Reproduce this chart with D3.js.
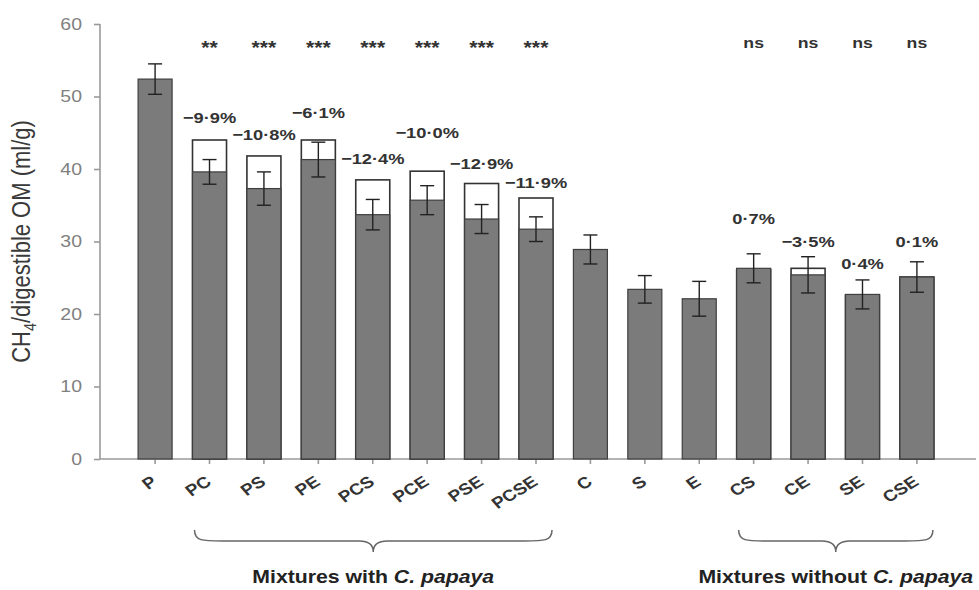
<!DOCTYPE html>
<html>
<head>
<meta charset="utf-8">
<script src="https://cdn.jsdelivr.net/npm/d3@7"></script>
<style>
  html, body { margin: 0; padding: 0; background: #fff; }
  svg { display: block; }
  text { font-family: "Liberation Sans", Arial, Helvetica, sans-serif; }
</style>
</head>
<body>
<svg id="chart" width="979" height="590"></svg>
<script>
// Methane production per digestible OM for single feeds and their mixtures
const categories = ['P', 'PC', 'PS', 'PE', 'PCS', 'PCE', 'PSE', 'PCSE', 'C', 'S', 'E', 'CS', 'CE', 'SE', 'CSE'];
// measured means (ml/g)
const observed = [52.4, 39.6, 37.3, 41.3, 33.7, 35.7, 33.1, 31.7, 28.9, 23.4, 22.1, 26.3, 25.4, 22.7, 25.1];
// standard errors
const errors = [2.1, 1.7, 2.3, 2.4, 2.1, 2.0, 2.0, 1.7, 2.0, 1.9, 2.4, 2.0, 2.5, 2.0, 2.1];
// expected values of the mixtures from their components
const expected = [null, 44.0, 41.8, 44.0, 38.5, 39.7, 38.0, 36.0, null, null, null, 26.1, 26.3, 22.6, 25.1];
// difference between measured and expected
const pctLabels = [null, '−9·9%', '−10·8%', '−6·1%', '−12·4%', '−10·0%', '−12·9%', '−11·9%', null, null, null, '0·7%', '−3·5%', '0·4%', '0·1%'];
// significance of that difference
const significance = ['', '**', '***', '***', '***', '***', '***', '***', '', '', '', 'ns', 'ns', 'ns', 'ns'];
const yTicks = [0, 10, 20, 30, 40, 50, 60];
const groups = [
  { from: 'PC', to: 'PCSE', label: 'Mixtures with ', italic: 'C. papaya' },
  { from: 'CS', to: 'CSE', label: 'Mixtures without ', italic: 'C. papaya' }
];

// layout
const stretch = 1.18;               // horizontal widening of the lettering
const pctLift = [0, 23, 21, 28, 21, 39, 20, 16, 0, 0, 0, 35, 15, 16, 20];

const svg = d3.select('#chart');

const x = d3.scaleBand()
  .domain(categories)
  .range([100, 972])
  .paddingInner(0.375)
  .paddingOuter(0.7);

const y = d3.scaleLinear().domain([0, 60]).range([459, 24]);

const axisColor = '#9a9a9a';

// y axis
const yAxis = svg.append('g')
  .attr('transform', 'translate(100,0)')
  .call(d3.axisLeft(y).tickValues(yTicks).tickSize(6).tickPadding(6).tickFormat(d3.format('d')));
yAxis.select('.domain').attr('stroke', axisColor).attr('stroke-width', 1.6)
  .attr('d', `M0,${y(60)}V${y(0)}`);
yAxis.selectAll('.tick line').attr('stroke', axisColor).attr('stroke-width', 1.6);
yAxis.selectAll('.tick text')
  .attr('fill', '#808080')
  .attr('font-size', 16.5)
  .attr('font-family', '"Liberation Sans", Arial, sans-serif')
  .attr('x', 0)
  .attr('transform', `translate(-18,0) scale(${stretch},1)`);

// x axis
const xAxis = svg.append('g')
  .attr('transform', `translate(0,${y(0)})`)
  .call(d3.axisBottom(x).tickSize(5).tickFormat(''));
xAxis.select('.domain').attr('stroke', axisColor).attr('stroke-width', 1.6)
  .attr('d', `M100,0H976`);
xAxis.selectAll('.tick line').attr('stroke', axisColor).attr('stroke-width', 1.6);

// rotated category labels
svg.append('g').selectAll('text')
  .data(categories)
  .join('text')
  .attr('transform', d => `translate(${x(d) + x.bandwidth() / 2 + 3},${y(0) + 25}) scale(${stretch},1) rotate(-36)`)
  .attr('text-anchor', 'end')
  .attr('font-size', 16)
  .attr('font-weight', 'bold')
  .attr('fill', '#333')
  .text(d => d);

// y axis title
const title = svg.append('text')
  .attr('transform', `translate(30,${(y(0) + y(60)) / 2}) scale(${stretch},1) rotate(-90)`)
  .attr('text-anchor', 'middle')
  .attr('font-size', 22)
  .attr('fill', '#3a3a3a');
title.append('tspan').text('CH');
title.append('tspan').attr('font-size', 14.5).attr('dy', 5).text('4');
title.append('tspan').attr('dy', -5).text('/digestible OM (ml/g)');

// expected values: open bars behind the measured ones
const rows = categories.map((c, i) => ({
  c, obs: observed[i], err: errors[i], exp: expected[i], pct: pctLabels[i], sig: significance[i], lift: pctLift[i]
}));

svg.append('g').selectAll('rect')
  .data(rows.filter(r => r.exp !== null))
  .join('rect')
  .attr('x', r => x(r.c))
  .attr('y', r => y(r.exp))
  .attr('width', x.bandwidth())
  .attr('height', r => y(0) - y(r.exp))
  .attr('fill', '#fff')
  .attr('stroke', '#333')
  .attr('stroke-width', 1.6);

// measured bars
svg.append('g').selectAll('rect')
  .data(rows)
  .join('rect')
  .attr('x', r => x(r.c))
  .attr('y', r => y(r.obs))
  .attr('width', x.bandwidth())
  .attr('height', r => y(0) - y(r.obs))
  .attr('fill', '#7b7b7b')
  .attr('stroke', '#3f3f3f')
  .attr('stroke-width', 1.2);

// error bars
const eb = svg.append('g').attr('stroke', '#222').attr('stroke-width', 1.4);
rows.forEach(r => {
  const cx = x(r.c) + x.bandwidth() / 2;
  const hw = 7;
  eb.append('line').attr('x1', cx).attr('x2', cx).attr('y1', y(r.obs + r.err)).attr('y2', y(r.obs - r.err));
  eb.append('line').attr('x1', cx - hw).attr('x2', cx + hw).attr('y1', y(r.obs + r.err)).attr('y2', y(r.obs + r.err));
  eb.append('line').attr('x1', cx - hw).attr('x2', cx + hw).attr('y1', y(r.obs - r.err)).attr('y2', y(r.obs - r.err));
});

// percentage difference labels
svg.append('g').selectAll('text')
  .data(rows.filter(r => r.pct !== null))
  .join('text')
  .attr('transform', r => {
    const top = Math.max(r.exp, r.obs + r.err);
    return `translate(${x(r.c) + x.bandwidth() / 2},${y(top) - r.lift + 5.5}) scale(${stretch},1)`;
  })
  .attr('text-anchor', 'middle')
  .attr('font-size', 15.5)
  .attr('font-weight', 'bold')
  .attr('fill', '#333')
  .text(r => r.pct);

// significance markers
svg.append('g').selectAll('text')
  .data(rows.filter(r => r.sig !== ''))
  .join('text')
  .attr('transform', r => `translate(${x(r.c) + x.bandwidth() / 2},${r.sig === 'ns' ? 48 : 54}) scale(${stretch},1)`)
  .attr('text-anchor', 'middle')
  .attr('font-size', r => r.sig === 'ns' ? 15 : 18)
  .attr('font-weight', 'bold')
  .attr('fill', '#333')
  .text(r => r.sig);

// group braces and their captions
const braceTop = 530, braceLine = 541, braceTip = 552;
groups.forEach(g => {
  const x1 = x(g.from) + 2;
  const x2 = x(g.to) + x.bandwidth() - 1;
  const mid = (x1 + x2) / 2;
  const p = d3.path();
  p.moveTo(x1, braceTop);
  p.bezierCurveTo(x1, braceLine, x1 + 8, braceLine, x1 + 28, braceLine);
  p.lineTo(mid - 14, braceLine);
  p.bezierCurveTo(mid - 5, braceLine, mid, braceLine + 3, mid, braceTip);
  p.bezierCurveTo(mid, braceLine + 3, mid + 5, braceLine, mid + 14, braceLine);
  p.lineTo(x2 - 28, braceLine);
  p.bezierCurveTo(x2 - 8, braceLine, x2, braceLine, x2, braceTop);
  svg.append('path')
    .attr('d', p.toString())
    .attr('fill', 'none')
    .attr('stroke', '#666')
    .attr('stroke-width', 1.5);

  const t = svg.append('text')
    .attr('transform', `translate(${mid},583) scale(${stretch},1)`)
    .attr('text-anchor', 'middle')
    .attr('font-size', 18)
    .attr('font-weight', 'bold')
    .attr('fill', '#222');
  t.append('tspan').text(g.label);
  t.append('tspan').attr('font-style', 'italic').text(g.italic);
});
</script>
</body>
</html>
